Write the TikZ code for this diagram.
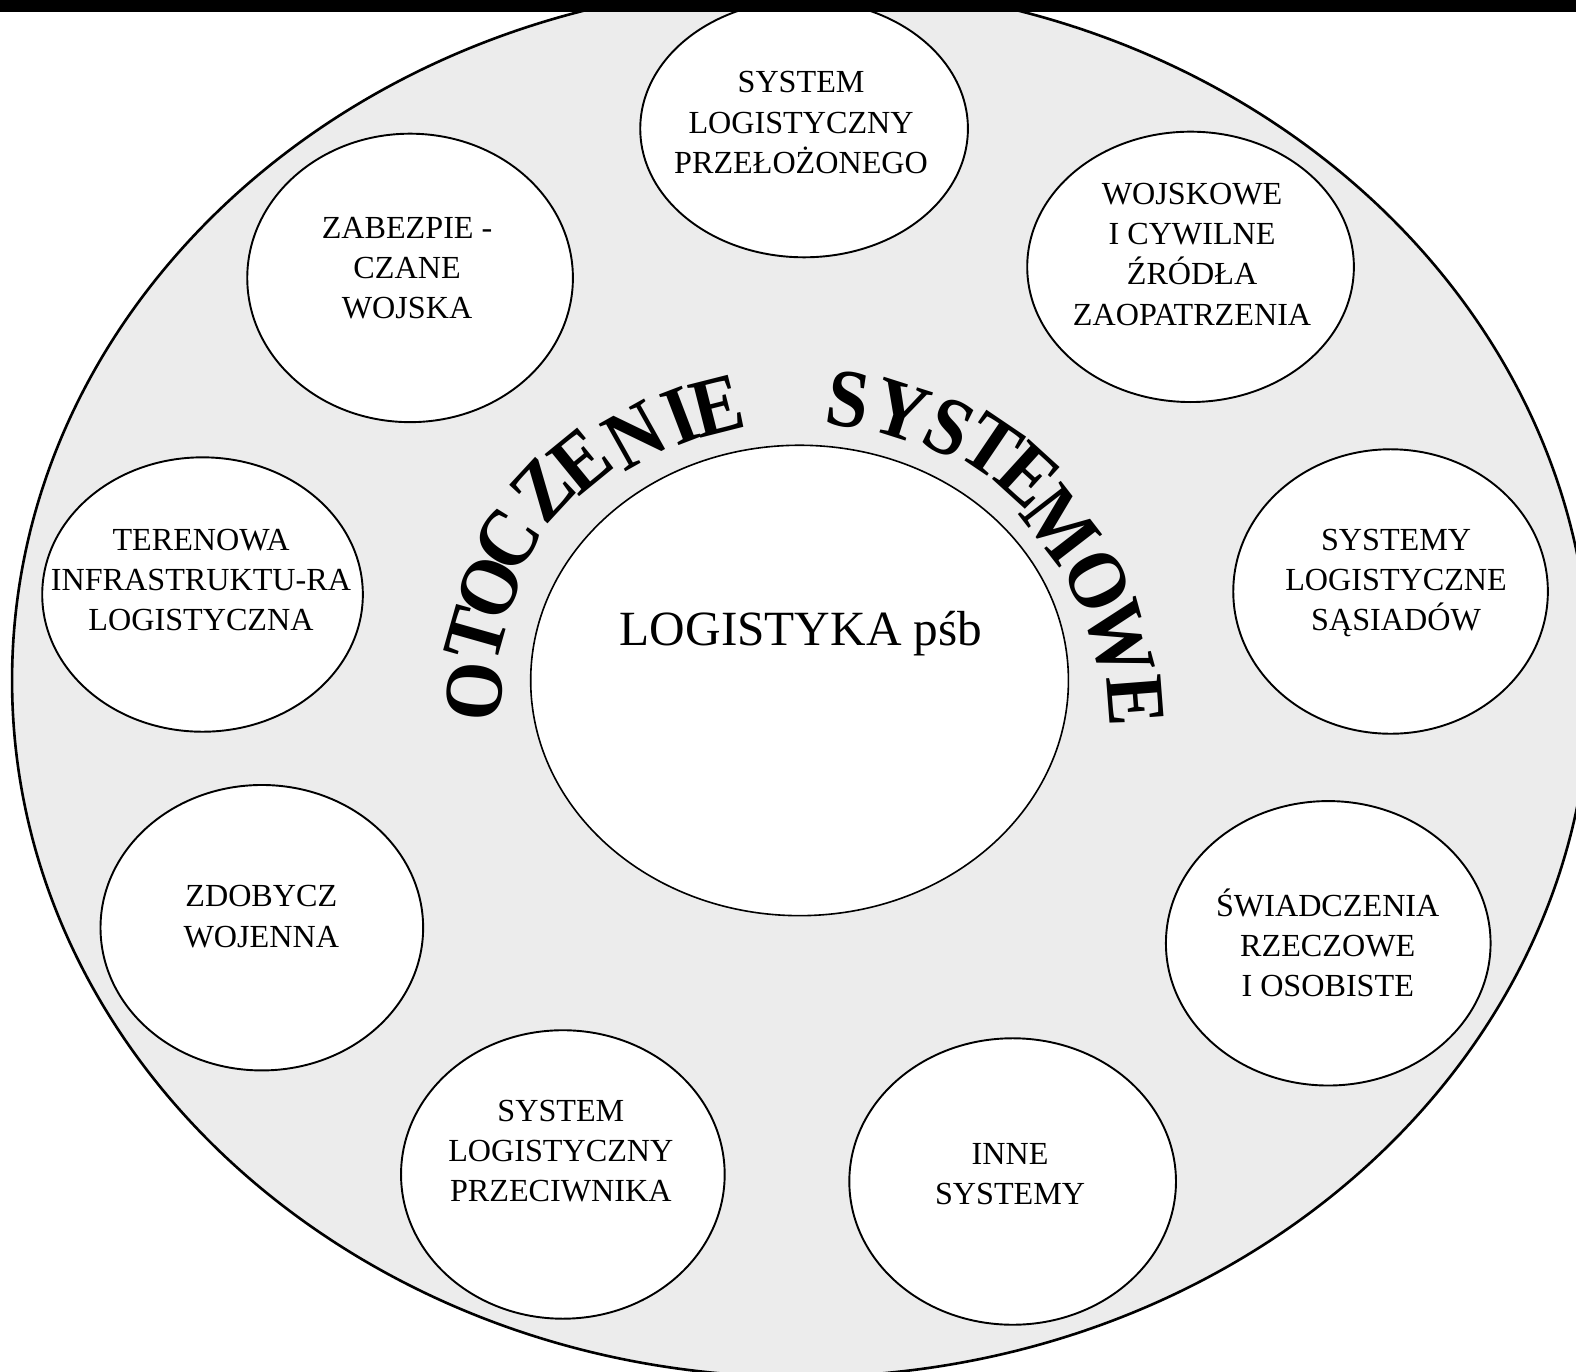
\documentclass[tikz,border=0pt]{standalone}
\usepackage{fontspec}
\setmainfont{Liberation Serif}
\usetikzlibrary{shapes.geometric}
\definecolor{bggray}{RGB}{236,236,236}
\begin{document}
\begin{tikzpicture}[x=1pt,y=-1pt,
  sub/.style={draw,ellipse,line width=1.9pt,fill=white,inner sep=0pt},
  lbl/.style={align=center,font=\fontsize{32}{40}\selectfont,inner sep=0pt},
  arcl/.style={font=\fontsize{75}{75}\selectfont\bfseries,inner sep=0pt}]
\useasboundingbox (0,0) rectangle (1568,1365);
\fill[white] (0,0) rectangle (1568,1365);
\begin{scope}
\clip (0,0) rectangle (1568,1365);
\node[draw,ellipse,line width=2.6pt,fill=bggray,minimum width=1570,minimum height=1386,inner sep=0pt] (env) at (797,677) {};
\node[sub,minimum width=326,minimum height=256] (top) at (800,128) {};
\node[sub,minimum width=324,minimum height=287] (zab) at (408,276.5) {};
\node[sub,minimum width=325,minimum height=269] (woj) at (1184.5,265.5) {};
\node[sub,minimum width=319,minimum height=273] (ter) at (201.5,591.5) {};
\node[sub,minimum width=313,minimum height=283] (sas) at (1383.5,588.5) {};
\node[sub,minimum width=321,minimum height=284] (zdo) at (260.5,923) {};
\node[sub,minimum width=323,minimum height=283] (swi) at (1321.5,938.5) {};
\node[sub,minimum width=322,minimum height=287] (prz) at (560,1168.5) {};
\node[sub,minimum width=325,minimum height=285] (inne) at (1007.5,1175.5) {};
\node[draw,ellipse,line width=1.6pt,fill=white,inner sep=0pt,minimum width=535,minimum height=468] (core) at (795.5,677) {};
\end{scope}
\node[lbl] (ttop) at (797,122) {SYSTEM\\LOGISTYCZNY\\PRZEŁOŻONEGO};
\node[lbl] (tzab) at (405,267) {ZABEZPIE -\\CZANE\\WOJSKA};
\node[lbl] (twoj) at (1186,253) {WOJSKOWE\\I CYWILNE\\ŹRÓDŁA\\ZAOPATRZENIA};
\node[lbl] (tter) at (200,577) {TERENOWA\\INFRASTRUKTU-RA\\LOGISTYCZNA};
\node[lbl] (tsas) at (1389,580) {SYSTEMY\\LOGISTYCZNE\\SĄSIADÓW};
\node[lbl] (tzdo) at (260,912) {ZDOBYCZ\\WOJENNA};
\node[lbl] (tswi) at (1321,938) {ŚWIADCZENIA\\RZECZOWE\\I OSOBISTE};
\node[lbl] (tprz) at (558,1145) {SYSTEM\\LOGISTYCZNY\\PRZECIWNIKA};
\node[lbl] (tinne) at (1005,1168) {INNE\\SYSTEMY};
\node[font=\fontsize{49}{49}\selectfont,inner sep=0pt] (tcore) at (797,630) {LOGISTYKA pśb};
\foreach \ch/\px/\py/\rot [count=\i] in {O/472/688/83.8,T/474/632/74.2,O/487/585/65.9,C/505/537/57.3,Z/540/487/47.2,E/578/458/39.3,N/632/433/29.3,I/677/414/20.9,E/714/404/14.2,S/844/398/-8.4,Y/896/409/-17.7,S/944/425/-26.4,T/986/444/-34.1,E/1023/473/-42.3,M/1055/522/-52.3,O/1092/578/-64,W/1113/636/-74.7,E/1130/697/-85.6}
  \node[arcl,rotate=\rot] (arc\i) at (\px,\py) {\scalebox{1}[1.1]{\ch}};
\fill[black] (0,0) rectangle (1568,12);
\end{tikzpicture}
\end{document}
